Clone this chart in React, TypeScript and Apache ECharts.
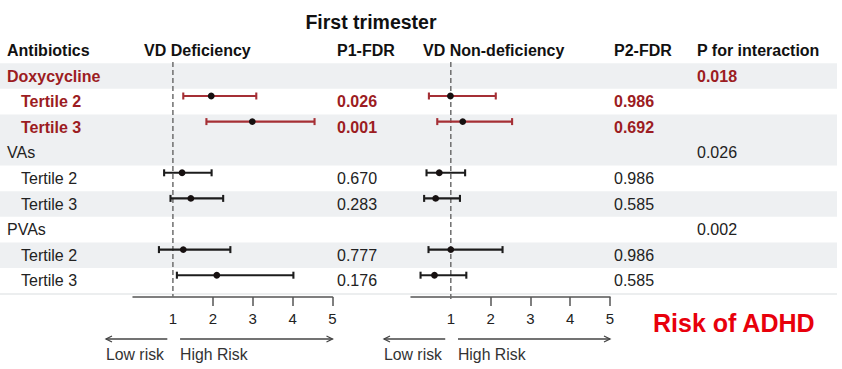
import React, { useEffect, useRef } from "react";
import * as echarts from "echarts";

// ---- data ----
const rowLabels = ["Doxycycline", "Tertile 2", "Tertile 3", "VAs", "Tertile 2", "Tertile 3", "PVAs", "Tertile 2", "Tertile 3"];
const rowIsGroup = [true, false, false, true, false, false, true, false, false];
const rowIsRed = [true, true, true, false, false, false, false, false, false];
const rowShaded = [true, false, true, true, false, true, false, true, false];

const defEst = [null, 1.96, 2.99, null, 1.23, 1.45, null, 1.26, 2.1];
const defLow = [null, 1.26, 1.84, null, 0.78, 0.94, null, 0.65, 1.1];
const defHigh = [null, 3.09, 4.55, null, 1.97, 2.26, null, 2.44, 4.02];

const nonEst = [null, 0.99, 1.3, null, 0.71, 0.62, null, 1.0, 0.59];
const nonLow = [null, 0.45, 0.66, null, 0.39, 0.33, null, 0.44, 0.24];
const nonHigh = [null, 2.13, 2.54, null, 1.36, 1.23, null, 2.3, 1.39];

const p1Fdr = ["", "0.026", "0.001", "", "0.670", "0.283", "", "0.777", "0.176"];
const p2Fdr = ["", "0.986", "0.692", "", "0.986", "0.585", "", "0.986", "0.585"];
const pInteraction = ["0.018", "", "", "0.026", "", "", "0.002", "", ""];

const headers = ["Antibiotics", "VD Deficiency", "P1-FDR", "VD Non-deficiency", "P2-FDR", "P for interaction"];
const tickLabels = [1, 2, 3, 4, 5];
const tickMarks = [2, 3, 4, 5];
const title = "First trimester";
const sideNote = "Risk of ADHD";

// ---- layout / style ----
const FONT = "'Liberation Sans', Arial, Helvetica, sans-serif";
const RED_TEXT = "#9c1c22";
const RED_BAR = "#a52f35";
const DARK = "#1c1c1c";
const BAND = "#eef0f2";
const ROW_H = 25.6;
const TEXT_Y0 = 76;
const BAR_SHIFT = -5.6;
const AXIS_Y = 297;
const GRID_TOP = TEXT_Y0 + BAR_SHIFT - ROW_H / 2;
const Y_MIN = -0.5;
const Y_MAX = Y_MIN + (AXIS_Y - GRID_TOP) / ROW_H;
const PANELS = [
  { left: 133, width: 199.5 },
  { left: 411, width: 199 },
];
const COL_X = { label: 7, indent: 21, p1: 337, p2: 614, pint: 697 };

function buildData(est: (number | null)[], low: (number | null)[], high: (number | null)[]) {
  const out: number[][] = [];
  est.forEach((e, i) => {
    if (e == null) return;
    out.push([low[i] as number, high[i] as number, e, i, rowIsRed[i] ? 1 : 0]);
  });
  return out;
}

function renderForest(params: any, api: any) {
  const low = api.value(0);
  const high = api.value(1);
  const est = api.value(2);
  const row = api.value(3);
  const red = api.value(4) === 1;
  const pL = api.coord([low, row]);
  const pH = api.coord([high, row]);
  const pE = api.coord([est, row]);
  const color = red ? RED_BAR : DARK;
  const cap = 3.5;
  const st = { stroke: color, lineWidth: 2.1 };
  return {
    type: "group",
    children: [
      { type: "line", shape: { x1: pL[0], y1: pL[1], x2: pH[0], y2: pH[1] }, style: st },
      { type: "line", shape: { x1: pL[0], y1: pL[1] - cap, x2: pL[0], y2: pL[1] + cap }, style: st },
      { type: "line", shape: { x1: pH[0], y1: pH[1] - cap, x2: pH[0], y2: pH[1] + cap }, style: st },
      { type: "circle", shape: { cx: pE[0], cy: pE[1], r: 3.4 }, style: { fill: "#161010" } },
    ],
  };
}

export default function App() {
  const ref = useRef<HTMLDivElement>(null);

  useEffect(() => {
    document.body.style.margin = "0";
    if (!ref.current) return;
    const chart = echarts.init(ref.current, undefined, { renderer: "svg" });

    const graphics: any[] = [];
    // row bands
    rowShaded.forEach((s, i) => {
      if (!s) return;
      graphics.push({
        type: "rect",
        z: -10,
        shape: { x: 0, y: TEXT_Y0 + ROW_H * i - ROW_H / 2, width: 837, height: ROW_H },
        style: { fill: BAND },
        silent: true,
      });
    });
    graphics.push({
      type: "line",
      z: -9,
      shape: { x1: 0, y1: TEXT_Y0 + ROW_H * 8.5 + 0.5, x2: 837, y2: TEXT_Y0 + ROW_H * 8.5 + 0.5 },
      style: { stroke: "#e6e8ea", lineWidth: 1.5 },
    });

    const txt = (text: string, x: number, y: number, size: number, bold: boolean, fill: string, align = "left") => ({
      type: "text",
      z: 10,
      style: {
        text,
        x,
        y,
        font: `${bold ? "bold " : ""}${size}px ${FONT}`,
        fill,
        textAlign: align,
        textVerticalAlign: "middle",
      },
    });

    // title & headers
    graphics.push(txt(title, 371, 22, 19.5, true, "#111", "center"));
    const headerX = [7, 144, 337, 423, 614, 697];
    headers.forEach((h, i) => graphics.push(txt(h, headerX[i], 50, 16, true, "#111")));

    // rows
    rowLabels.forEach((lab, i) => {
      const y = TEXT_Y0 + ROW_H * i;
      const red = rowIsRed[i];
      const color = red ? RED_TEXT : "#222";
      graphics.push(txt(lab, rowIsGroup[i] ? COL_X.label : COL_X.indent, y, 16, red, color));
      if (p1Fdr[i]) graphics.push(txt(p1Fdr[i], COL_X.p1, y, 16, red, color));
      if (p2Fdr[i]) graphics.push(txt(p2Fdr[i], COL_X.p2, y, 16, red, color));
      if (pInteraction[i]) graphics.push(txt(pInteraction[i], COL_X.pint, y, 16, red, color));
    });

    // risk arrows under each panel
    const arrowY = 339;
    PANELS.forEach((p) => {
      const unit = p.width / 5;
      const lowStart = p.left + unit * 0.86;
      const lowEnd = p.left - 27;
      const highStart = p.left + unit * 1.18;
      const highEnd = p.left + p.width;
      const st = { stroke: "#444", lineWidth: 1.3 };
      graphics.push({ type: "line", shape: { x1: lowStart, y1: arrowY, x2: lowEnd, y2: arrowY }, style: st });
      graphics.push({ type: "polyline", shape: { points: [[lowEnd + 6, arrowY - 3], [lowEnd, arrowY], [lowEnd + 6, arrowY + 3]] }, style: { ...st, fill: null } });
      graphics.push({ type: "line", shape: { x1: highStart, y1: arrowY, x2: highEnd, y2: arrowY }, style: st });
      graphics.push({ type: "polyline", shape: { points: [[highEnd - 6, arrowY - 3], [highEnd, arrowY], [highEnd - 6, arrowY + 3]] }, style: { ...st, fill: null } });
      graphics.push(txt("Low risk", lowEnd, 354, 15.8, false, "#333"));
      graphics.push(txt("High Risk", highStart, 354, 15.8, false, "#333"));
    });

    graphics.push(txt(sideNote, 653, 323, 25, true, "#e8000b"));

    const grids = PANELS.map((p) => ({ left: p.left, width: p.width, top: GRID_TOP, height: AXIS_Y - GRID_TOP }));
    const xAxes = PANELS.map((_, gi) => ({
      type: "value",
      gridIndex: gi,
      position: "bottom",
      min: 0,
      max: 5,
      interval: 1,
      axisLine: { show: true, onZero: false, lineStyle: { color: "#555", width: 1.5 } },
      axisTick: { show: true, inside: false, customValues: tickMarks, length: 9, lineStyle: { color: "#555", width: 1.5 } },
      axisLabel: { show: true, customValues: tickLabels, margin: 14, fontSize: 15, color: "#222", fontFamily: FONT },
      splitLine: { show: false },
    }));
    const yAxes = PANELS.map((_, gi) => ({
      type: "value",
      gridIndex: gi,
      inverse: true,
      min: Y_MIN,
      max: Y_MAX,
      show: false,
      splitLine: { show: false },
    }));

    const series: any[] = [];
    const sets = [
      buildData(defEst, defLow, defHigh),
      buildData(nonEst, nonLow, nonHigh),
    ];
    sets.forEach((d, gi) => {
      series.push({
        type: "line",
        xAxisIndex: gi,
        yAxisIndex: gi,
        data: [[1, -0.33], [1, Y_MAX + (gi === 1 ? 0.12 : 0)]],
        symbol: "none",
        silent: true,
        clip: false,
        lineStyle: { color: "#6e6e6e", width: 1.5, type: [5, 3] },
        z: 1,
      });
      series.push({
        type: "custom",
        xAxisIndex: gi,
        yAxisIndex: gi,
        data: d,
        renderItem: renderForest,
        clip: false,
        z: 3,
      });
    });

    chart.setOption({
      animation: false,
      backgroundColor: "#ffffff",
      textStyle: { fontFamily: FONT },
      grid: grids,
      xAxis: xAxes,
      yAxis: yAxes,
      series,
      graphic: { elements: graphics },
    });

    return () => chart.dispose();
  }, []);

  return <div ref={ref} style={{ width: 842, height: 369 }} />;
}
